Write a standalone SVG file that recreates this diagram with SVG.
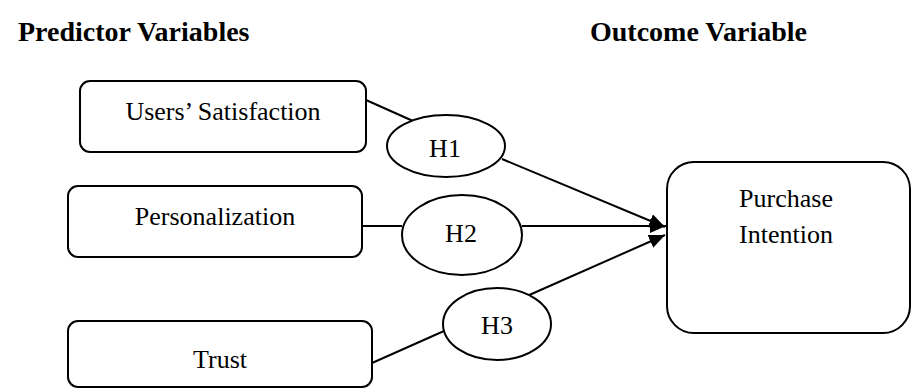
<svg xmlns="http://www.w3.org/2000/svg" width="914" height="389" viewBox="0 0 914 389">
<defs>
<style>
.box{fill:#fff;stroke:#000;stroke-width:2}
.ell{fill:#fff;stroke:#000;stroke-width:2}
.lbl{font-family:"Liberation Serif","Times New Roman",serif;font-size:26px;fill:#000;text-anchor:middle}
.hd{font-family:"Liberation Serif","Times New Roman",serif;font-size:28px;font-weight:bold;fill:#000}
.ln{stroke:#000;stroke-width:2;fill:none}
</style>
<marker id="ah" viewBox="0 0 16 14" refX="16" refY="7" markerWidth="16" markerHeight="14" markerUnits="userSpaceOnUse" orient="auto">
<path d="M0,0 L16,7 L0,14 Z" fill="#000"/>
</marker>
</defs>
<rect width="914" height="389" fill="#fff"/>
<text class="hd" x="18" y="41">Predictor Variables</text>
<text class="hd" x="590" y="41">Outcome Variable</text>
<g id="connectors">
<line class="ln" x1="366" y1="100" x2="413" y2="121"/>
<line class="ln" x1="362" y1="226" x2="402" y2="226"/>
<line class="ln" x1="372" y1="363" x2="444" y2="331"/>
<line class="ln" x1="502" y1="159" x2="665" y2="227" marker-end="url(#ah)"/>
<line class="ln" x1="522" y1="226" x2="666" y2="226" marker-end="url(#ah)"/>
<line class="ln" x1="527" y1="296" x2="665" y2="235" marker-end="url(#ah)"/>
</g>
<g id="users-satisfaction">
<rect class="box" x="80" y="81" width="286" height="71" rx="10"/>
<text class="lbl" x="223" y="120">Users’ Satisfaction</text>
</g>
<g id="personalization">
<rect class="box" x="68" y="186" width="294" height="71" rx="10"/>
<text class="lbl" x="215" y="225">Personalization</text>
</g>
<g id="trust">
<rect class="box" x="68" y="321" width="304" height="66" rx="10"/>
<text class="lbl" x="220" y="368">Trust</text>
</g>
<g id="h1">
<ellipse class="ell" cx="446" cy="146" rx="59" ry="31"/>
<text class="lbl" x="445" y="157">H1</text>
</g>
<g id="h2">
<ellipse class="ell" cx="462" cy="235" rx="60" ry="40"/>
<text class="lbl" x="461" y="242">H2</text>
</g>
<g id="h3">
<ellipse class="ell" cx="497" cy="324" rx="54" ry="36"/>
<text class="lbl" x="497" y="334">H3</text>
</g>
<g id="purchase-intention">
<rect class="box" x="667" y="162" width="243" height="171" rx="27"/>
<text class="lbl" x="786" y="207">Purchase</text>
<text class="lbl" x="786" y="243">Intention</text>
</g>
</svg>
